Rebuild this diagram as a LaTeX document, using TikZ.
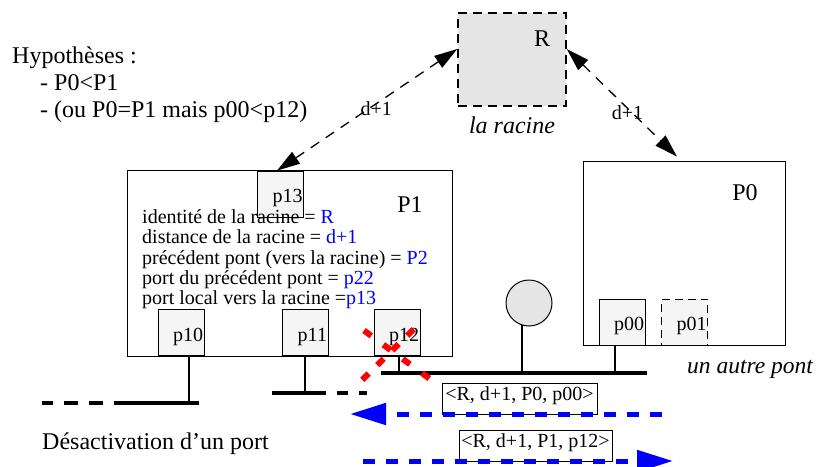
\documentclass[tikz,border=0pt]{standalone}
\usepackage{fontspec}
\setmainfont{Liberation Serif}
\usetikzlibrary{arrows.meta, positioning}

\definecolor{portgray}{gray}{0.96}
\definecolor{rootgray}{gray}{0.9}
\newcommand\smalltxt{\fontsize{20}{20.3}\selectfont}
\newcommand\bigtxt{\fontsize{24}{27}\selectfont}

\begin{document}
\begin{tikzpicture}[
    x=1pt, y=-1pt,
    every node/.style={font=\smalltxt},
    bridge/.style={draw, line width=0.8pt, inner sep=0pt},
    port/.style={draw, line width=0.8pt, fill=portgray, minimum width=46pt, minimum height=46pt,
        inner xsep=1pt, text width=44pt, align=right, text height=17pt, text depth=0pt},
    msg/.style={draw, line width=0.8pt, inner sep=1pt, minimum height=31pt, text height=12pt, text depth=9pt},
    bus/.style={line width=3.5pt},
    stem/.style={line width=2pt},
    link/.style={{Triangle[length=23pt,width=14pt]}-{Triangle[length=23pt,width=14pt]}, line width=1.3pt, dash pattern=on 10pt off 8pt},
    flow/.style={-{Triangle[length=36pt,width=21pt]}, blue, line width=5pt, dash pattern=on 12pt off 11pt},
    cut/.style={red, line width=6pt}
]
\useasboundingbox (0,0) rectangle (816,466);

% Nodes
\node[font=\bigtxt, anchor=north west, inner sep=0pt, align=left] (hyp) at (12,46.5)
    {Hypothèses :\\\hspace*{28pt}- P0<P1\\\hspace*{28pt}- (ou P0=P1 mais p00<p12)};

\node (R) [draw, fill=rootgray, line width=1.5pt, dash pattern=on 9pt off 6pt,
    minimum width=108pt, minimum height=93pt] at (512,59.5) {};
\node[font=\bigtxt] (Rname) at (542,38.5) {R};
\node (Rlabel) [below=9.5pt of R, inner sep=0pt, font=\bigtxt\itshape] {la racine};

\node (P1) [bridge, minimum width=325pt, minimum height=186pt] at (289.5,263) {};
\node[font=\bigtxt] (P1name) at (410,205) {P1};
\node (p13) [port] at (280.5,194) {p13};
\node (p10) [port] at (181,332.5) {p10};
\node (p11) [port] at (305,332.5) {p11};
\node (p12) [port] at (397,332.5) {p12};
\node (P1info) [anchor=north west, inner sep=0pt, align=left] at (142,209.5)
    {identité de la racine = \textcolor{blue}{R}\\
     distance de la racine = \textcolor{blue}{d+1}\\
     précédent pont (vers la racine) = \textcolor{blue}{P2}\\
     port du précédent pont = \textcolor{blue}{p22}\\
     port local vers la racine =\textcolor{blue}{p13}};

\node (P0) [bridge, minimum width=202pt, minimum height=184pt] at (684,253) {};
\node[font=\bigtxt] (P0name) at (745,193) {P0};
\node (p00) [port] at (622,322) {p00};
\node (p01) [port, dash pattern=on 8pt off 5pt] at (684.5,322) {p01};
\node (other) [anchor=base west, inner sep=0pt, font=\fontsize{23.5}{26}\selectfont\itshape] at (687,373) {un autre pont};

\node (host) [draw, circle, fill=rootgray, line width=1pt, minimum size=46pt, inner sep=0pt] at (529,303) {};

\node (m0) [msg, minimum width=155pt] at (519.5,398.5) {<R, d+1, P0, p00>};
\node (m1) [msg, minimum width=153pt] at (535.5,445.5) {<R, d+1, P1, p12>};

\node (deact) [anchor=base west, inner sep=0pt, font=\bigtxt] at (42,449) {Désactivation d’un port};

% Segments
\coordinate (bus12w) at (381,373);
\coordinate (bus12e) at (647,373);
\coordinate (bus11w) at (272,393);
\coordinate (bus11e) at (326,393);
\coordinate (bus11x) at (367,393);
\coordinate (bus10e) at (199,403);
\coordinate (bus10w) at (114,403);
\coordinate (bus10x) at (42,403);

\draw [stem] ([xshift=8pt]p10.south) -- ([xshift=8pt]p10.south |- bus10e);
\draw [stem] (p11.south) -- (p11.south |- bus11w);
\draw [stem] ([xshift=2pt]p12.south) -- ([xshift=2pt]p12.south |- bus12w);
\draw [stem] ([xshift=-7pt]p00.south) -- ([xshift=-7pt]p00.south |- bus12w);
\draw [stem] (host.-107) -- (host.-107 |- bus12w);

\draw [bus] (bus12w) -- (bus12e);
\draw [bus] (bus11w) -- (bus11e);
\draw [bus, dash pattern=on 11pt off 11pt, dash phase=11pt] (bus11e) -- (bus11x);
\draw [bus] (bus10e) -- (bus10w);
\draw [bus, dash pattern=on 14pt off 11pt, dash phase=14pt] (bus10w) -- (bus10x);

% Arrows
\draw [link] ([yshift=10.5pt]R.west) -- node[pos=0.45, yshift=-5pt] {d+1} ([xshift=-3.5pt]p13.north);
\draw [link] ([yshift=10.5pt]R.east) -- node[pos=0.55, yshift=-4pt] {d+1} ([xshift=-7pt,yshift=4pt]P0.north);

\coordinate (f0s) at (662,414);
\coordinate (f0e) at (350,414);
\coordinate (f1s) at (363,461);
\coordinate (f1e) at (673,461);
\draw [flow] (f0s) -- (f0e);
\draw [flow] (f1s) -- (f1e);

% Port cut
\coordinate (c1a) at (362,329);
\coordinate (c1b) at (430,379);
\coordinate (c2a) at (414,329);
\coordinate (c2b) at (362,380);
\draw [cut, dash pattern=on 9pt off 15pt, dash phase=21.5pt] (c1a) -- (c1b);
\draw [cut, dash pattern=on 9pt off 12pt, dash phase=20.5pt] (c2a) -- (c2b);

\end{tikzpicture}
\end{document}
